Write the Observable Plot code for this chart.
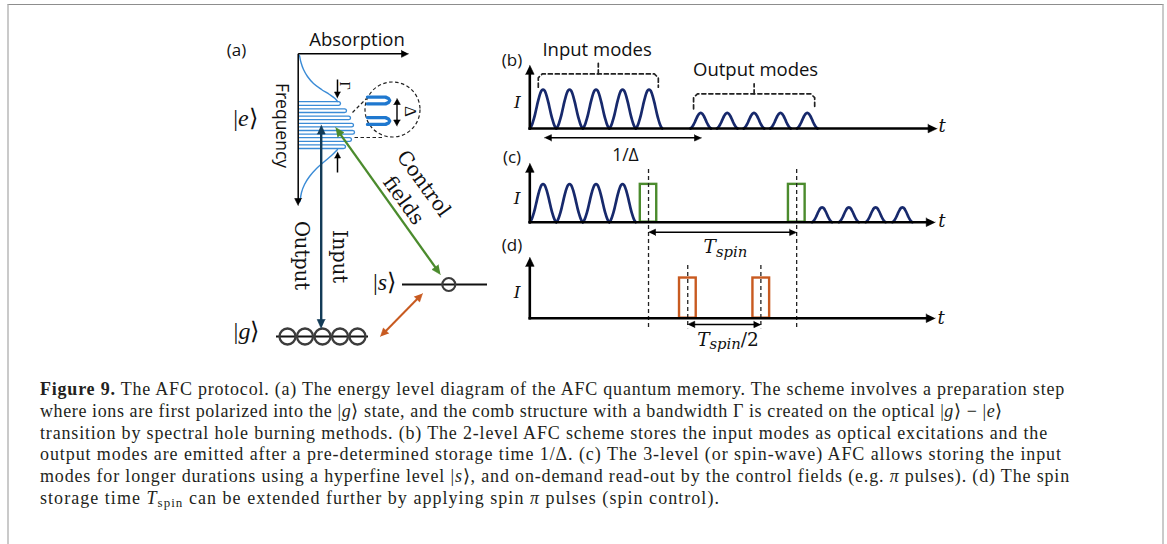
<!DOCTYPE html>
<html><head><meta charset="utf-8">
<script src="https://cdn.jsdelivr.net/npm/d3@7"></script>
<script src="https://cdn.jsdelivr.net/npm/@observablehq/plot@0.6"></script>
<style>
html,body{margin:0;padding:0;background:#fff;}
body{width:1167px;height:544px;overflow:hidden;position:relative;}
#frame{position:absolute;left:7px;top:4px;width:1153px;height:620px;border-top:1px solid #8d8d8d;border-left:2px solid #cacaca;border-right:2px solid #cacaca;}
.panel{position:absolute;}
.panel svg{overflow:visible;display:block;}
#caption{position:absolute;left:40px;top:379.3px;width:1100px;font-family:"Liberation Serif","Times New Roman",serif;font-size:18px;color:#231f20;}
#caption .cl{position:absolute;left:0;white-space:nowrap;line-height:21.7px;}
#caption sub{font-size:0.72em;vertical-align:-0.25em;line-height:0;}
</style></head>
<body>
<div id="frame"></div>
<div id="pa" class="panel" style="left:200px;top:10px"></div>
<div id="pb" class="panel" style="left:490px;top:30px"></div>
<div id="pc" class="panel" style="left:490px;top:140px"></div>
<div id="pd" class="panel" style="left:490px;top:245px"></div>
<div id="caption"></div>
<script>
// ================= DATA =================
// pulse profile (offset in pulse widths, relative height)
const pulseProfileOffsets = [-0.5,-0.45,-0.4,-0.35,-0.3,-0.25,-0.2,-0.15,-0.1,-0.05,0,0.05,0.1,0.15,0.2,0.25,0.3,0.35,0.4,0.45,0.5];
const pulseProfileHeights = [0,0.05,0.13,0.24,0.37,0.52,0.67,0.8,0.91,0.975,1,0.975,0.91,0.8,0.67,0.52,0.37,0.24,0.13,0.05,0];

// panel (b): 2-level AFC (time in pulse periods, intensity relative to input)
const bInputTimes  = [0.5,1.5,2.5,3.5,4.5];
const bInputAmp    = 1.0;
const bOutputTimes = [6.45,7.45,8.46,9.46,10.47];
const bOutputAmp   = 0.40;
const bStorage     = [0.55, 6.48];          // 1/Δ arrow
// panel (c): 3-level AFC
const cInputTimes   = [0.5,1.5,2.5,3.5];
const cInputAmp     = 0.98;
const cControlStart = [4.17, 9.76];
const cControlEnd   = [4.79, 10.39];
const cControlAmp   = 0.97;
const cOutputTimes  = [11.03,12.04,13.05,14.06];
const cOutputAmp    = 0.38;
const spinMarks     = [4.48, 10.07];        // T_spin
// panel (d): spin control
const dSpinStart = [5.65, 8.42];
const dSpinEnd   = [6.28, 9.05];
const dSpinAmp   = 1.03;
const halfMarks  = [5.96, 8.72];            // T_spin/2

// panel (a): energy-level scheme (diagram coordinates)
const absorptionUpper = [[299,55],[300.5,62],[303,69],[307,76],[313,83],[321,89],[329,94],[334.5,98],[337,101]];
const absorptionLower = [[337,149],[331,155],[324,161],[316,168],[309,176],[304,184],[301,192],[299.5,201]];
const combCenters = [103,110.2,117.4,124.6,131.8,139,146.2];
const combTips    = [340,346,350,353,354,351,345];
const zoomTeethCenters = [100, 120.5];
const groundAtoms = [287,304.5,322,339.5,357];
const spinAtoms   = [448.3];
const levelNames  = ["|#g#⟩", "|#s#⟩"];

const captionLines = [
 '<b>Figure 9.</b> The AFC protocol. (a) The energy level diagram of the AFC quantum memory. The scheme involves a preparation step',
 'where ions are first polarized into the |<i>g</i>⟩ state, and the comb structure with a bandwidth Γ is created on the optical |<i>g</i>⟩ − |<i>e</i>⟩',
 'transition by spectral hole burning methods. (b) The 2-level AFC scheme stores the input modes as optical excitations and the',
 'output modes are emitted after a pre-determined storage time 1/Δ. (c) The 3-level (or spin-wave) AFC allows storing the input',
 'modes for longer durations using a hyperfine level |<i>s</i>⟩, and on-demand read-out by the control fields (e.g. <i>π</i> pulses). (d) The spin',
 'storage time <i>T</i><sub>spin</sub> can be extended further by applying spin <i>π</i> pulses (spin control).'
];
const captionEnds = [1065,1003,1048,1062,1070,720];

// ================= STYLE =================
const C = {navy:"#17296c", green:"#4b8b2d", orange:"#c85a20", blue:"#3a8bd6", blue2:"#1f78cf", deep:"#133b57", ink:"#111"};
const SANS = "Open Sans, Noto Sans, sans-serif";
const SERIF = "Liberation Serif, Times New Roman, serif";
const SERIF2 = "DejaVu Serif, serif";

// ================= HELPERS =================
function arrowMarks(list, kx, ky) {
  const marks = [];
  for (const a of list) {
    const sx = (a.x2-a.x1)*kx, sy = (a.y2-a.y1)*ky;
    const L = Math.hypot(sx, sy), ux = sx/L, uy = sy/L;
    let x1=a.x1, y1=a.y1, x2=a.x2, y2=a.y2;
    const heads = [];
    const head = (tx, ty, dx, dy, id) => {
      const bx = -dx*a.len, by = -dy*a.len, px = -dy*a.hw, py = dx*a.hw;
      [[0,0],[bx+px,by+py],[bx-px,by-py]].forEach(([ox,oy]) => heads.push({x: tx+ox/kx, y: ty+oy/ky, id}));
    };
    const trim = a.len*0.6;
    if (a.end)   { head(a.x2,a.y2,ux,uy,"e");  x2 -= ux*trim/kx; y2 -= uy*trim/ky; }
    if (a.start) { head(a.x1,a.y1,-ux,-uy,"s"); x1 += ux*trim/kx; y1 += uy*trim/ky; }
    marks.push(Plot.link([{x1,y1,x2,y2}], {x1:"x1",y1:"y1",x2:"x2",y2:"y2",stroke:a.color,strokeWidth:a.width}));
    if (heads.length) marks.push(Plot.line(heads, {x:"x",y:"y",z:"id",fill:a.color,stroke:a.color,strokeWidth:0.6}));
  }
  return marks;
}
function pulseTrain(times, amp, width, tag) {
  const out = [];
  times.forEach((c, i) => pulseProfileOffsets.forEach((o, j) =>
    out.push({t: c + o*width, I: amp*pulseProfileHeights[j], id: tag+i})));
  return out;
}
function textMark(d) {
  return Plot.text([d], {x:"x", y:"y", text:"s", fontSize:d.size, fontFamily:d.font,
    fontStyle:d.italic ? "italic" : "normal", rotate:d.rotate||0, fill:C.ink});
}
function richify(svg) {
  svg.querySelectorAll("text").forEach(t => {
    const s = t.textContent;
    if (!/[#~]/.test(s)) return;
    const parts = s.split(/(#[^#]*#|~[^~]*~)/).filter(p => p);
    while (t.firstChild) t.removeChild(t.firstChild);
    let sub = false;
    for (const p of parts) {
      const ts = document.createElementNS("http://www.w3.org/2000/svg","tspan");
      if (p[0] === "~") {
        ts.textContent = p.slice(1,-1);
        ts.setAttribute("font-style","italic");
        ts.setAttribute("font-size","0.8em");
        ts.setAttribute("dy", (0.2/0.8).toFixed(3)+"em");
        sub = true;
      } else {
        ts.textContent = p[0] === "#" ? p.slice(1,-1) : p;
        if (p[0] === "#") ts.setAttribute("font-style","italic");
        if (sub) { ts.setAttribute("dy","-0.2em"); sub = false; }
      }
      t.appendChild(ts);
    }
  });
}
function bracket(id, x1, x2, top, bottom, tip) {
  const xm = (x1+x2)/2;
  return [
    {id, t:x1, I:bottom},{id, t:x1, I:top-0.1},{id, t:x1+0.15, I:top},
    {id, t:x2-0.15, I:top},{id, t:x2, I:top-0.1},{id, t:x2, I:bottom},
    {id:id+"m", t:xm, I:top},{id:id+"m", t:xm, I:tip}
  ];
}

// ================= TIME PANELS =================
const KX = 26.5, KY = 39, X0 = 39.3;
function timePlot(height, base, marks) {
  const svg = Plot.plot({
    width: 470, height, margin: 0,
    x: {domain:[0,1], range:[X0, X0+KX], axis:null},
    y: {domain:[0,1], range:[base, base-KY], axis:null},
    style: {background:"transparent", overflow:"visible"},
    marks
  });
  richify(svg);
  return svg;
}
function axes(tEnd, iTop) {
  return arrowMarks([
    {x1:-0.05,y1:0,x2:tEnd,y2:0,color:"#000",width:2.6,end:true,len:9,hw:4.3},
    {x1:0,y1:-0.033,x2:0,y2:iTop,color:"#000",width:2.6,end:true,len:9,hw:4.3}
  ], KX, -KY);
}
const pulseStyle = {x:"t", y:"I", z:"id", stroke:C.navy, strokeWidth:2.7, curve:"catmull-rom", strokeLinejoin:"round"};
const dash = {stroke:"#222", strokeWidth:1.3, strokeDasharray:"4,3"};

// (b)
document.getElementById("pb").appendChild(timePlot(140, 98, [
  Plot.line(pulseTrain(bInputTimes, bInputAmp, 1, "i"), pulseStyle),
  Plot.line(pulseTrain(bOutputTimes, bOutputAmp, 0.78, "o"), pulseStyle),
  Plot.line([...bracket("in", 0.32, 4.85, 1.40, 1.06, 1.67), ...bracket("out", 6.18, 10.75, 0.89, 0.505, 1.146)],
    {x:"t", y:"I", z:"id", stroke:"#222", strokeWidth:1.7, strokeDasharray:"4,3"}),
  ...axes(15.37, 1.62),
  ...arrowMarks([{x1:bStorage[0],y1:-0.24,x2:bStorage[1],y2:-0.24,color:"#000",width:1.5,start:true,end:true,len:7,hw:3.2}], KX, -KY),
  textMark({x:-0.67, y:1.74, s:"(b)", size:17, font:SANS}),
  textMark({x:-0.47, y:0.67, s:"I", size:17, font:SERIF2, italic:true}),
  textMark({x:15.56, y:0.05, s:"t", size:18, font:SERIF2, italic:true}),
  textMark({x:2.54, y:2.0, s:"Input modes", size:18.5, font:SANS}),
  textMark({x:8.52, y:1.49, s:"Output modes", size:18.5, font:SANS}),
  textMark({x:3.61, y:-0.69, s:"1/Δ", size:17.5, font:SANS})
]));

// (c)
document.getElementById("pc").appendChild(timePlot(110, 81.7, [
  Plot.line(pulseTrain(cInputTimes, cInputAmp, 1, "i"), pulseStyle),
  Plot.line(pulseTrain(cOutputTimes, cOutputAmp, 0.75, "o"), pulseStyle),
  Plot.rect(cControlStart.map((s,i) => ({s, e:cControlEnd[i]})), {x1:"s", x2:"e", y1:0, y2:cControlAmp, stroke:C.green, strokeWidth:2.4, fill:"none"}),
  Plot.ruleX(spinMarks, {x:d=>d, y1:1.35, y2:-2.72, ...dash}),
  ...axes(15.3, 1.51),
  ...arrowMarks([{x1:spinMarks[0],y1:-0.26,x2:spinMarks[1],y2:-0.26,color:"#000",width:1.5,start:true,end:true,len:7,hw:3.2}], KX, -KY),
  textMark({x:-0.67, y:1.67, s:"(c)", size:17, font:SANS}),
  textMark({x:-0.475, y:0.61, s:"I", size:17, font:SERIF2, italic:true}),
  textMark({x:15.55, y:0.02, s:"t", size:18, font:SERIF2, italic:true}),
  textMark({x:7.38, y:-0.65, s:"#T#~spin~", size:18.5, font:SERIF2})
]));

// (d)
document.getElementById("pd").appendChild(timePlot(110, 72.7, [
  Plot.rect(dSpinStart.map((s,i) => ({s, e:dSpinEnd[i]})), {x1:"s", x2:"e", y1:0, y2:dSpinAmp, stroke:C.orange, strokeWidth:2.4, fill:"none"}),
  Plot.ruleX(halfMarks, {x:d=>d, y1:1.35, y2:-0.27, ...dash}),
  ...axes(15.3, 1.56),
  ...arrowMarks([{x1:halfMarks[0],y1:-0.16,x2:halfMarks[1],y2:-0.16,color:"#000",width:1.5,start:true,end:true,len:7,hw:3.2}], KX, -KY),
  textMark({x:-0.67, y:1.86, s:"(d)", size:17, font:SANS}),
  textMark({x:-0.475, y:0.67, s:"I", size:17, font:SERIF2, italic:true}),
  textMark({x:15.52, y:0.0, s:"t", size:18, font:SERIF2, italic:true}),
  textMark({x:7.48, y:-0.55, s:"#T#~spin~/2", size:18.5, font:SERIF2})
]));

// ================= PANEL (a) =================
const comb = [];
combCenters.forEach((c,k) => {
  const X = combTips[k], h = 1.8;
  [[298.6,c-h],[X-h,c-h],[X-0.5,c-h*0.75],[X,c],[X-0.5,c+h*0.75],[X-h,c+h],[298.6,c+h]]
    .forEach(([x,y]) => comb.push({x,y,id:k}));
});
const zoomTeeth = [];
zoomTeethCenters.forEach((c,k) => {
  [[367,c-3.4],[385,c-3.4],[388,c-2],[389.2,c],[388,c+2],[385,c+3.4],[367,c+3.4]]
    .forEach(([x,y]) => zoomTeeth.push({x,y,id:k}));
});
const aArrows = [
  {x1:297.7,y1:53.3,x2:408,y2:53.3,color:"#000",width:1.5,end:true,len:7,hw:3.5},
  {x1:297.7,y1:53.3,x2:297.7,y2:205,color:"#000",width:1.5,end:true,len:7,hw:3.5},
  {x1:337,y1:79,x2:337,y2:97.5,color:"#000",width:1.5,end:true,len:6,hw:3},
  {x1:337,y1:172,x2:337,y2:151.5,color:"#000",width:1.5,end:true,len:6,hw:3},
  {x1:396.5,y1:98,x2:396.5,y2:125.5,color:"#000",width:1.4,start:true,end:true,len:6,hw:3.3},
  {x1:320.7,y1:124.5,x2:320.7,y2:328,color:C.deep,width:2.4,start:true,end:true,len:9,hw:4},
  {x1:335,y1:127,x2:440,y2:274,color:C.green,width:2.3,start:true,end:true,len:9,hw:4},
  {x1:380,y1:336,x2:422,y2:293,color:C.orange,width:2,start:true,end:true,len:8,hw:3.8}
];
const aTexts = [
  {x:236,y:50,s:"(a)",size:17,font:SANS},
  {x:356.5,y:40,s:"Absorption",size:18.5,font:SANS},
  {x:281,y:125,s:"Frequency",size:17.5,font:SANS,rotate:90},
  {x:245,y:118,s:"|#e#⟩",size:24,font:SERIF},
  {x:344,y:85,s:"Γ",size:14,font:SERIF,rotate:90},
  {x:410,y:111,s:"Δ",size:17,font:SERIF,rotate:90},
  {x:300.5,y:255,s:"Output",size:19.5,font:SERIF2,rotate:90},
  {x:339,y:256,s:"Input",size:19.5,font:SERIF2,rotate:90},
  {x:423,y:183,s:"Control",size:20,font:SERIF2,rotate:54},
  {x:403,y:200,s:"fields",size:20,font:SERIF2,rotate:54},
  {x:384,y:282,s:levelNames[1],size:24,font:SERIF},
  {x:246,y:331,s:levelNames[0],size:24,font:SERIF}
];
const svgA = Plot.plot({
  width: 300, height: 350, margin: 0,
  x: {domain:[200,500], range:[0,300], axis:null},
  y: {domain:[10,360], range:[0,350], axis:null},
  style: {background:"transparent", overflow:"visible"},
  marks: [
    Plot.line(absorptionUpper, {x:d=>d[0], y:d=>d[1], stroke:C.blue, strokeWidth:1.4, curve:"catmull-rom"}),
    Plot.line(absorptionLower, {x:d=>d[0], y:d=>d[1], stroke:C.blue, strokeWidth:1.4, curve:"catmull-rom"}),
    Plot.line(comb, {x:"x", y:"y", z:"id", stroke:C.blue, strokeWidth:1.3, strokeLinejoin:"round"}),
    Plot.dot([{x:392,y:109}], {x:"x", y:"y", r:27.5, stroke:"#222", strokeWidth:1.2, strokeDasharray:"3.5,2.5", fill:"none"}),
    Plot.link([{x1:352,y1:112,x2:366,y2:98},{x1:354,y1:137,x2:382,y2:137}], {x1:"x1",y1:"y1",x2:"x2",y2:"y2", stroke:"#222", strokeWidth:1.2, strokeDasharray:"3.5,2.5"}),
    Plot.line(zoomTeeth, {x:"x", y:"y", z:"id", stroke:C.blue2, strokeWidth:3.4, strokeLinejoin:"round", strokeLinecap:"round"}),
    Plot.ruleY([{y:336,x1:276,x2:368},{y:284,x1:402,x2:487}], {y:"y", x1:"x1", x2:"x2", stroke:"#111", strokeWidth:2.2}),
    Plot.dot(groundAtoms.map(x => ({x, y:336})), {x:"x", y:"y", r:8, stroke:"#3c3c3c", strokeWidth:2.3, fill:"none"}),
    Plot.dot(spinAtoms.map(x => ({x, y:284})), {x:"x", y:"y", r:6.5, stroke:"#3c3c3c", strokeWidth:2.2, fill:"none"}),
    ...arrowMarks(aArrows, 1, 1),
    ...aTexts.map(textMark)
  ]
});
richify(svgA);
document.getElementById("pa").appendChild(svgA);

// ================= CAPTION =================
const cap = document.getElementById("caption");
captionLines.forEach((html, i) => {
  const d = document.createElement("div");
  d.className = "cl";
  d.style.top = (i*21.7) + "px";
  d.innerHTML = html;
  cap.appendChild(d);
  const w = d.getBoundingClientRect().width;
  const n = d.textContent.length;
  const ls = (captionEnds[i] - 40 - w) / n;
  d.style.letterSpacing = ls.toFixed(3) + "px";
});
</script>
</body></html>
